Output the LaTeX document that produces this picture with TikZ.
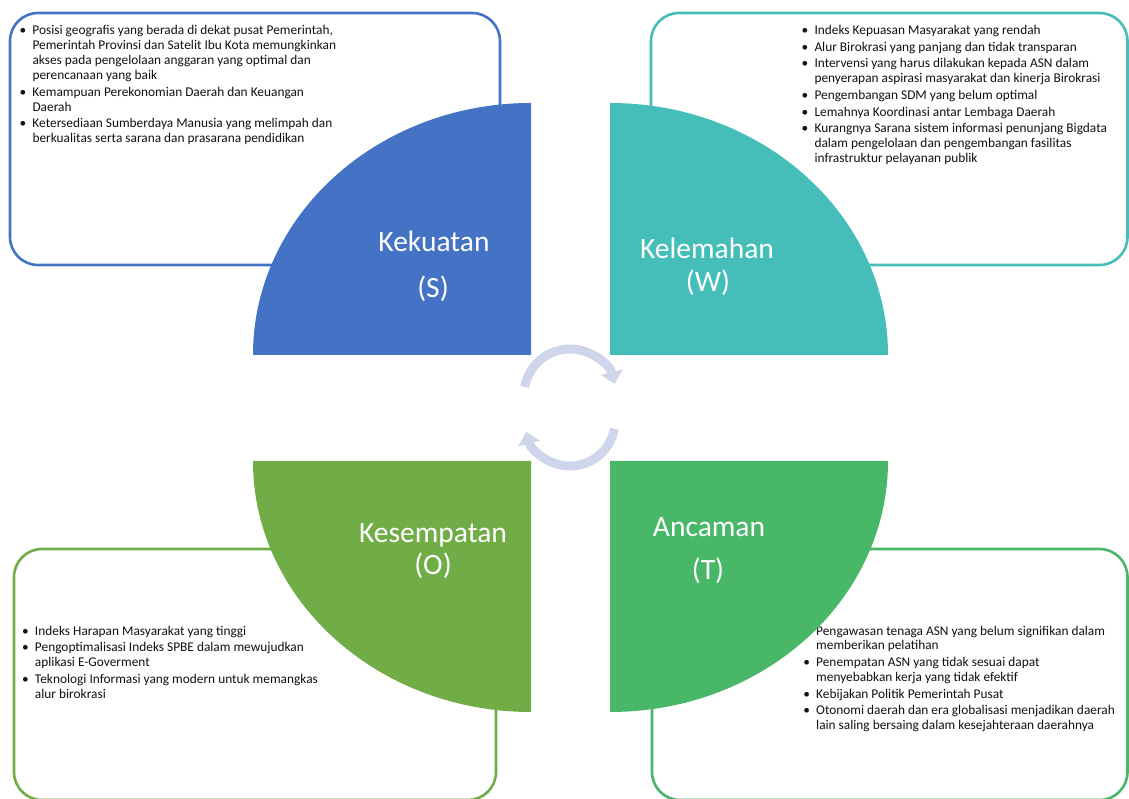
\documentclass[tikz,border=0pt]{standalone}
\usepackage{fontspec}
\setmainfont{Carlito}
\usetikzlibrary{arrows.meta}
\definecolor{cS}{HTML}{4472C4}
\definecolor{cW}{HTML}{45BDB9}
\definecolor{cO}{HTML}{70AD47}
\definecolor{cT}{HTML}{48B868}
\definecolor{cArr}{HTML}{CFD5EA}
\definecolor{cTxt}{HTML}{111111}
\newcommand{\bu}{\makebox[12.8pt][l]{\textbullet}}
\newcommand{\ct}{\hspace*{12.8pt}}
\newcommand{\ig}{\\[1.8pt]}
\tikzset{
  frame/.style={draw=#1, line width=2.6pt, rounded corners=28pt, fill=white},
  pie/.style={fill=#1, draw=none},
  biglabel/.style={anchor=base, text=white, inner sep=0pt, font=\fontsize{29.5}{34}\selectfont},
  listtext/.style={anchor=base west, inner sep=0pt, text=cTxt, font=\fontsize{13.35}{14.9}\selectfont},
  cyc/.style={draw=cArr, line width=9pt, -{Triangle[width=22pt,length=12pt]}}
}
\newcommand{\lst}[1]{\parbox[t]{340pt}{\raggedright #1}}
\begin{document}
\begin{tikzpicture}[x=1pt,y=1pt]
\useasboundingbox (0,0) rectangle (1129,798);
\clip (0,0) rectangle (1129,798);
% frames
\draw[frame=cS] (10,533) rectangle (500,785);
\draw[frame=cW] (651,533) rectangle (1127.5,785);
\draw[frame=cO] (14,-2) rectangle (496,249);
\draw[frame=cT] (652,-2) rectangle (1127.5,249);
% texts
\node[listtext] (tS) at (19.5,763) {\lst{%
\bu Posisi geografis yang berada di dekat pusat Pemerintah,\\
\ct Pemerintah Provinsi dan Satelit Ibu Kota memungkinkan\\
\ct akses pada pengelolaan anggaran yang optimal dan\\
\ct perencanaan yang baik\ig
\bu Kemampuan Perekonomian Daerah dan Keuangan\\
\ct Daerah\ig
\bu Ketersediaan Sumberdaya Manusia yang melimpah dan\\
\ct berkualitas serta sarana dan prasarana pendidikan}};
\node[listtext] (tW) at (801.5,763.5) {\lst{%
\bu Indeks Kepuasan Masyarakat yang rendah\ig
\bu Alur Birokrasi yang panjang dan tidak transparan\ig
\bu Intervensi yang harus dilakukan kepada ASN dalam\\
\ct penyerapan aspirasi masyarakat dan kinerja Birokrasi\ig
\bu Pengembangan SDM yang belum optimal\ig
\bu Lemahnya Koordinasi antar Lembaga Daerah\ig
\bu Kurangnya Sarana sistem informasi penunjang Bigdata\\
\ct dalam pengelolaan dan pengembangan fasilitas\\
\ct infrastruktur pelayanan publik}};
\node[listtext] (tO) at (22,163) {\lst{%
\bu Indeks Harapan Masyarakat yang tinggi\ig
\bu Pengoptimalisasi Indeks SPBE dalam mewujudkan\\
\ct aplikasi E-Goverment\ig
\bu Teknologi Informasi yang modern untuk memangkas\\
\ct alur birokrasi}};
\node[listtext] (tT) at (803.2,163) {\lst{%
\bu Pengawasan tenaga ASN yang belum signifikan dalam\\
\ct memberikan pelatihan\ig
\bu Penempatan ASN yang tidak sesuai dapat\\
\ct menyebabkan kerja yang tidak efektif\ig
\bu Kebijakan Politik Pemerintah Pusat\ig
\bu Otonomi daerah dan era globalisasi menjadikan daerah\\
\ct lain saling bersaing dalam kesejahteraan daerahnya}};
% quarter pies
\fill[pie=cS] (531,443) -- (253,443) arc[start angle=180, end angle=90, x radius=278, y radius=252] -- cycle;
\fill[pie=cW] (610,443) -- (610,695) arc[start angle=90, end angle=0, x radius=278, y radius=252] -- cycle;
\fill[pie=cO] (531,337) -- (253,337) arc[start angle=180, end angle=270, x radius=278, y radius=251] -- cycle;
\fill[pie=cT] (610,337) -- (888,337) arc[start angle=0, end angle=-90, x radius=278, y radius=251] -- cycle;
% labels
\node[biglabel] (lS1) at (434,546) {Kekuatan};
\node[biglabel] (lS2) at (433,500) {(S)};
\node[biglabel] (lW1) at (707,539) {Kelemahan};
\node[biglabel] (lW2) at (708,506) {(W)};
\node[biglabel] (lO1) at (433,255) {Kesempatan};
\node[biglabel] (lO2) at (433,223) {(O)};
\node[biglabel] (lT1) at (709,261) {Ancaman};
\node[biglabel] (lT2) at (708,218) {(T)};
% cycle arrows
\draw[cyc] (524.7,411) arc[start angle=170, end angle=14, radius=46];
\draw[cyc] (614.3,369.2) arc[start angle=-10, end angle=-166, radius=45];
\end{tikzpicture}
\end{document}
